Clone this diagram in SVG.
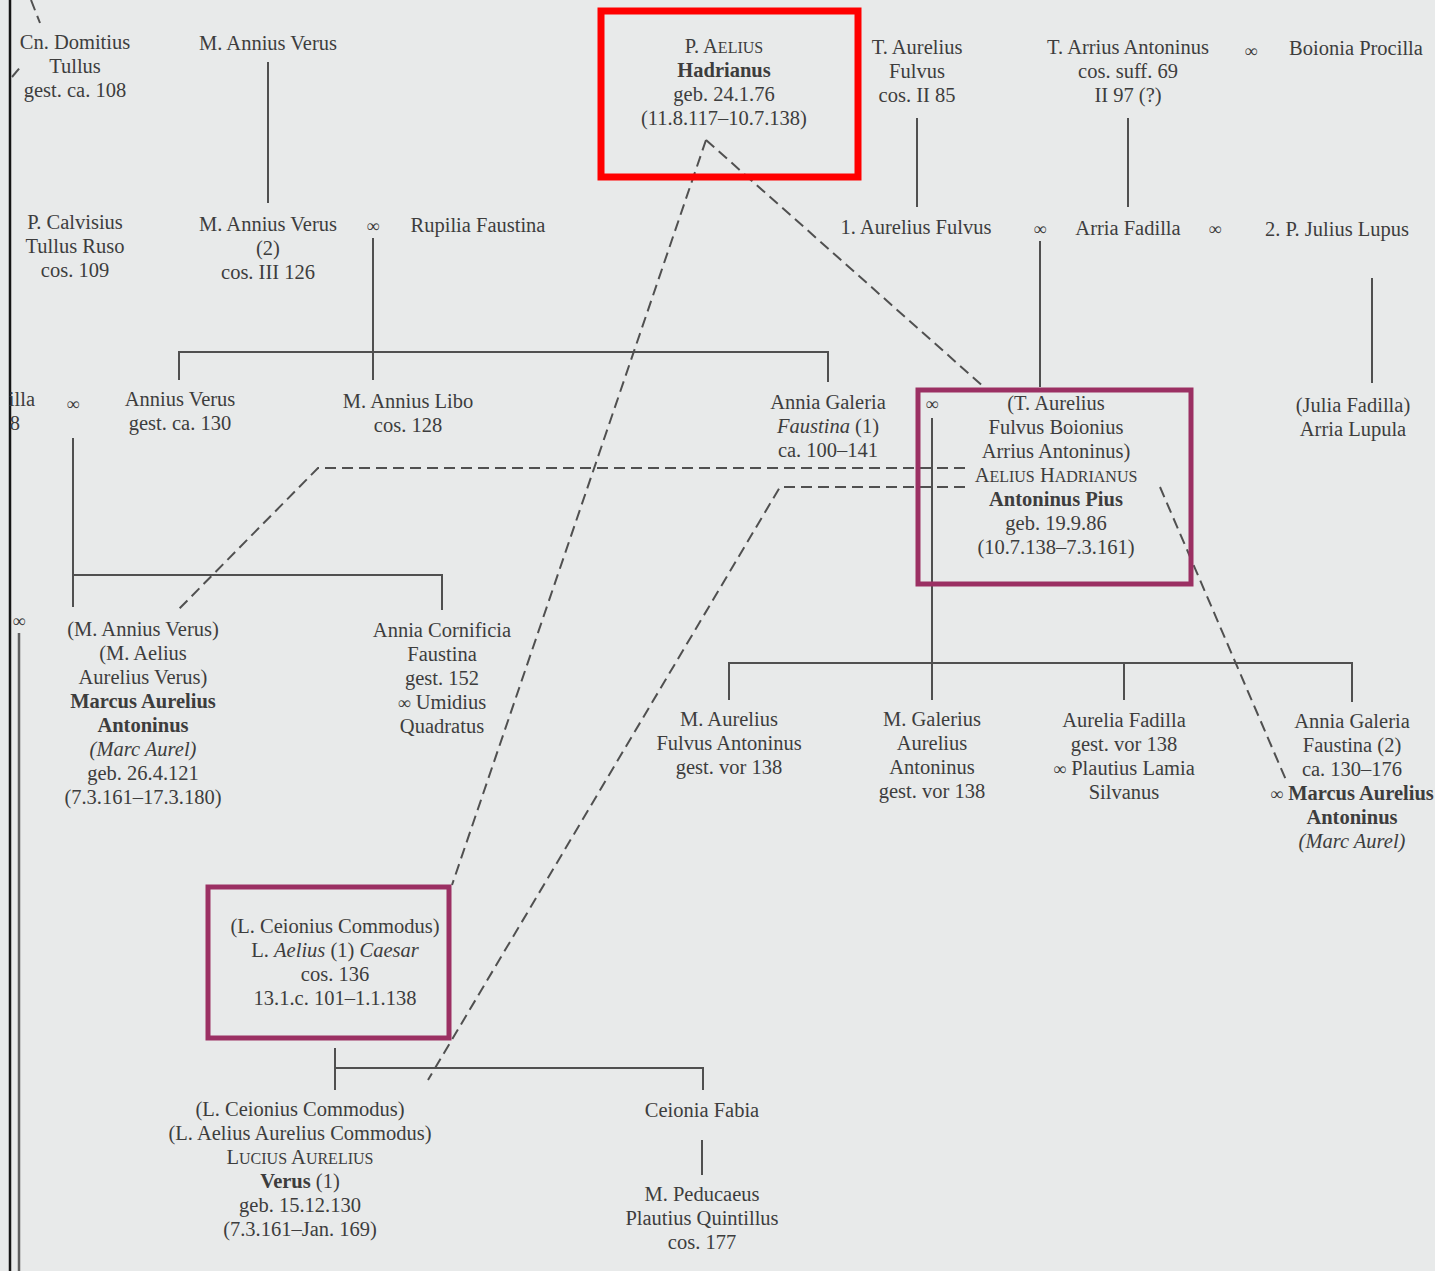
<svg xmlns="http://www.w3.org/2000/svg" width="1435" height="1271" viewBox="0 0 1435 1271">
<style>
text{font-family:"Liberation Serif","Times New Roman",serif;font-size:20.5px;fill:#3d3d3d;text-anchor:middle}
.b{font-weight:bold}
.i{font-style:italic}
.sc{font-size:16px}
.inf{font-size:18px}
.ln{stroke:#505050;stroke-width:2;fill:none}
.dash{stroke:#505050;stroke-width:2;fill:none;stroke-dasharray:11 6}
.box{fill:none;stroke:#9b3063;stroke-width:5}
.red{fill:none;stroke:#ff0000;stroke-width:7}
</style>
<rect width="1435" height="1271" fill="#e8eaea"/>
<g id="connectors">
<path class="ln" d="M10,0V1271" style="stroke:#151515;stroke-width:2.5"/>
<path class="ln" d="M19,633V1271" style="stroke:#606060;stroke-width:2.5"/>
<path class="ln" d="M268,62V203"/>
<path class="ln" d="M917,118V207"/>
<path class="ln" d="M1128,118V207"/>
<path class="ln" d="M373,238V380"/>
<path class="ln" d="M179,380V352H828V382"/>
<path class="ln" d="M1040,241V387"/>
<path class="ln" d="M1372,278V383"/>
<path class="ln" d="M73,438V607"/>
<path class="ln" d="M73,575H442V610"/>
<path class="ln" d="M932,418V700"/>
<path class="ln" d="M729,700V663H1352V702"/>
<path class="ln" d="M1124,663V700"/>
<path class="ln" d="M335,1048V1090"/>
<path class="ln" d="M335,1068H703V1090"/>
<path class="ln" d="M702,1140V1175"/>
<path class="dash" d="M706,140L985,388"/>
<path class="dash" d="M706,140L452,885"/>
<path class="dash" d="M965,468H318L178,610"/>
<path class="dash" d="M965,487H780L428,1080"/>
<path class="dash" d="M1160,487L1286,780"/>
<path class="dash" d="M31,0L40,23"/>
<path class="dash" d="M12,77L22,65"/>
</g>
<g id="n-domitius"><text x="75" y="49"><tspan x="75">Cn. Domitius</tspan><tspan x="75" dy="24">Tullus</tspan><tspan x="75" dy="24">gest. ca. 108</tspan></text></g>
<g id="n-verus1"><text x="268" y="50">M. Annius Verus</text></g>
<g id="n-hadrian">
<rect class="red" x="601" y="11" width="257" height="166"/>
<text x="724" y="53"><tspan x="724">P. A<tspan class="sc">ELIUS</tspan></tspan><tspan x="724" dy="24" class="b">Hadrianus</tspan><tspan x="724" dy="24">geb. 24.1.76</tspan><tspan x="724" dy="24">(11.8.117–10.7.138)</tspan></text>
</g>
<g id="n-aurfulvus1"><text x="917" y="54"><tspan x="917">T. Aurelius</tspan><tspan x="917" dy="24">Fulvus</tspan><tspan x="917" dy="24">cos. II 85</tspan></text></g>
<g id="n-arrius"><text x="1128" y="54"><tspan x="1128">T. Arrius Antoninus</tspan><tspan x="1128" dy="24">cos. suff. 69</tspan><tspan x="1128" dy="24">II 97 (?)</tspan></text></g>
<g id="m1"><text class="inf" x="1251" y="57">∞</text></g>
<g id="n-boionia"><text x="1356" y="55">Boionia Procilla</text></g>
<g id="n-calvisius"><text x="75" y="229"><tspan x="75">P. Calvisius</tspan><tspan x="75" dy="24">Tullus Ruso</tspan><tspan x="75" dy="24">cos. 109</tspan></text></g>
<g id="n-verus2"><text x="268" y="231"><tspan x="268">M. Annius Verus</tspan><tspan x="268" dy="24">(2)</tspan><tspan x="268" dy="24">cos. III 126</tspan></text></g>
<g id="m2"><text class="inf" x="373" y="232">∞</text></g>
<g id="n-rupilia"><text x="478" y="232">Rupilia Faustina</text></g>
<g id="n-aurfulvus2"><text x="916" y="234">1. Aurelius Fulvus</text></g>
<g id="m3"><text class="inf" x="1040" y="235">∞</text></g>
<g id="n-arriafadilla"><text x="1128" y="235">Arria Fadilla</text></g>
<g id="m4"><text class="inf" x="1215" y="235">∞</text></g>
<g id="n-lupus"><text x="1337" y="236">2. P. Julius Lupus</text></g>
<g id="n-cut"><text x="35" y="406" style="text-anchor:end">illa</text><text x="20" y="430" style="text-anchor:end">8</text></g>
<g id="m5"><text class="inf" x="73" y="410">∞</text></g>
<g id="n-anniusverus"><text x="180" y="406"><tspan x="180">Annius Verus</tspan><tspan x="180" dy="24">gest. ca. 130</tspan></text></g>
<g id="n-libo"><text x="408" y="408"><tspan x="408">M. Annius Libo</tspan><tspan x="408" dy="24">cos. 128</tspan></text></g>
<g id="n-faustina1"><text x="828" y="409"><tspan x="828">Annia Galeria</tspan><tspan x="828" dy="24"><tspan class="i">Faustina</tspan> (1)</tspan><tspan x="828" dy="24">ca. 100–141</tspan></text></g>
<g id="m6"><text class="inf" x="932" y="410">∞</text></g>
<g id="n-pius">
<rect class="box" x="918" y="390" width="273" height="194"/>
<text x="1056" y="410"><tspan x="1056">(T. Aurelius</tspan><tspan x="1056" dy="24">Fulvus Boionius</tspan><tspan x="1056" dy="24">Arrius Antoninus)</tspan><tspan x="1056" dy="24">A<tspan class="sc">ELIUS</tspan> H<tspan class="sc">ADRIANUS</tspan></tspan><tspan x="1056" dy="24" class="b">Antoninus Pius</tspan><tspan x="1056" dy="24">geb. 19.9.86</tspan><tspan x="1056" dy="24">(10.7.138–7.3.161)</tspan></text>
</g>
<g id="n-lupula"><text x="1353" y="412"><tspan x="1353">(Julia Fadilla)</tspan><tspan x="1353" dy="24">Arria Lupula</tspan></text></g>
<g id="m7"><text class="inf" x="19" y="627">∞</text></g>
<g id="n-marcus"><text x="143" y="636"><tspan x="143">(M. Annius Verus)</tspan><tspan x="143" dy="24">(M. Aelius</tspan><tspan x="143" dy="24">Aurelius Verus)</tspan><tspan x="143" dy="24" class="b">Marcus Aurelius</tspan><tspan x="143" dy="24" class="b">Antoninus</tspan><tspan x="143" dy="24" class="i">(Marc Aurel)</tspan><tspan x="143" dy="24">geb. 26.4.121</tspan><tspan x="143" dy="24">(7.3.161–17.3.180)</tspan></text></g>
<g id="n-cornificia"><text x="442" y="637"><tspan x="442">Annia Cornificia</tspan><tspan x="442" dy="24">Faustina</tspan><tspan x="442" dy="24">gest. 152</tspan><tspan x="442" dy="24"><tspan class="inf">∞</tspan> Umidius</tspan><tspan x="442" dy="24">Quadratus</tspan></text></g>
<g id="n-mfulvus"><text x="729" y="726"><tspan x="729">M. Aurelius</tspan><tspan x="729" dy="24">Fulvus Antoninus</tspan><tspan x="729" dy="24">gest. vor 138</tspan></text></g>
<g id="n-galerius"><text x="932" y="726"><tspan x="932">M. Galerius</tspan><tspan x="932" dy="24">Aurelius</tspan><tspan x="932" dy="24">Antoninus</tspan><tspan x="932" dy="24">gest. vor 138</tspan></text></g>
<g id="n-aureliafadilla"><text x="1124" y="727"><tspan x="1124">Aurelia Fadilla</tspan><tspan x="1124" dy="24">gest. vor 138</tspan><tspan x="1124" dy="24"><tspan class="inf">∞</tspan> Plautius Lamia</tspan><tspan x="1124" dy="24">Silvanus</tspan></text></g>
<g id="n-faustina2"><text x="1352" y="728"><tspan x="1352">Annia Galeria</tspan><tspan x="1352" dy="24">Faustina (2)</tspan><tspan x="1352" dy="24">ca. 130–176</tspan><tspan x="1352" dy="24"><tspan class="inf">∞</tspan> <tspan class="b">Marcus Aurelius</tspan></tspan><tspan x="1352" dy="24" class="b">Antoninus</tspan><tspan x="1352" dy="24" class="i">(Marc Aurel)</tspan></text></g>
<g id="n-aelius">
<rect class="box" x="208" y="887" width="241" height="151"/>
<text x="335" y="933"><tspan x="335">(L. Ceionius Commodus)</tspan><tspan x="335" dy="24">L. <tspan class="i">Aelius</tspan> (1) <tspan class="i">Caesar</tspan></tspan><tspan x="335" dy="24">cos. 136</tspan><tspan x="335" dy="24">13.1.c. 101–1.1.138</tspan></text>
</g>
<g id="n-lucius"><text x="300" y="1116"><tspan x="300">(L. Ceionius Commodus)</tspan><tspan x="300" dy="24">(L. Aelius Aurelius Commodus)</tspan><tspan x="300" dy="24">L<tspan class="sc">UCIUS</tspan> A<tspan class="sc">URELIUS</tspan></tspan><tspan x="300" dy="24"><tspan class="b">Verus</tspan> (1)</tspan><tspan x="300" dy="24">geb. 15.12.130</tspan><tspan x="300" dy="24">(7.3.161–Jan. 169)</tspan></text></g>
<g id="n-ceionia"><text x="702" y="1117">Ceionia Fabia</text></g>
<g id="n-peducaeus"><text x="702" y="1201"><tspan x="702">M. Peducaeus</tspan><tspan x="702" dy="24">Plautius Quintillus</tspan><tspan x="702" dy="24">cos. 177</tspan></text></g>
</svg>
